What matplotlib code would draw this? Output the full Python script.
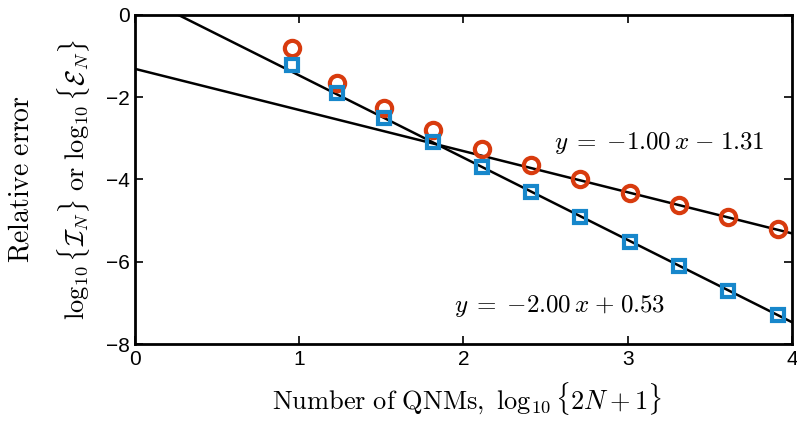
import numpy as np
import matplotlib.pyplot as plt

plt.rcParams['mathtext.fontset'] = 'cm'
plt.rcParams['font.family'] = ['Liberation Sans', 'DejaVu Sans']

# data
x_pts = [0.954, 1.230, 1.519, 1.813, 2.111, 2.410, 2.710, 3.011, 3.312, 3.612, 3.913]
err_I = [-0.80, -1.66, -2.27, -2.80, -3.25, -3.64, -3.98, -4.32, -4.62, -4.91, -5.21]
err_E = [-1.21, -1.90, -2.51, -3.10, -3.70, -4.30, -4.90, -5.51, -6.10, -6.71, -7.30]

# fitted lines: slope, intercept
fit_I = (-1.00, -1.31)
fit_E = (-2.00, 0.53)

red = '#D83B0E'
blue = '#1787CB'

fig = plt.figure(figsize=(7.97, 4.22), dpi=100)
ax = fig.add_axes([0.1694, 0.1848, 0.8243, 0.7797])

xl = np.array([0, 4])
ax.plot(xl, fit_I[0] * xl + fit_I[1], color='black', lw=1.8, zorder=2)
ax.plot(xl, fit_E[0] * xl + fit_E[1], color='black', lw=1.8, zorder=2)

ax.plot(x_pts, err_I, 'o', ms=11, mfc='none', mec=red, mew=3, zorder=3)
ax.plot(x_pts, err_E, 's', ms=9, mfc='none', mec=blue, mew=3, zorder=3)

ax.text(2.55, -3.11, r'$y\;=\;{-}1.00\,x\;{-}\;1.31$', fontsize=18, va='center', ha='left')
ax.text(1.94, -7.08, r'$y\;=\;{-}2.00\,x\;{+}\;0.53$', fontsize=18, va='center', ha='left')

ax.set_xlim(0, 4)
ax.set_ylim(-8, 0)
ax.set_xticks([0, 1, 2, 3, 4])
ax.set_yticks([-8, -6, -4, -2, 0])
ax.set_yticklabels(['\u22128', '\u22126', '\u22124', '\u22122', '0'])
ax.tick_params(direction='in', top=True, right=True, length=6, width=1.2,
               labelsize=15, pad=4)
for s in ax.spines.values():
    s.set_linewidth(2)

fig.text(0.586, 0.03, r'$\mathrm{Number\ of\ QNMs,}\ \log_{10}\{2N+1\}$', fontsize=19,
         ha='center', va='baseline')
fig.text(0.027, 0.575, r'$\mathrm{Relative\ error}$', rotation=90, fontsize=20,
         ha='center', va='center')
fig.text(0.092, 0.575, r'$\log_{10}\{\mathcal{I}_N\}\ \mathrm{or}\ \log_{10}\{\mathcal{E}_N\}$',
         rotation=90, fontsize=19, ha='center', va='center')

fig.savefig('out.png', dpi=100)
